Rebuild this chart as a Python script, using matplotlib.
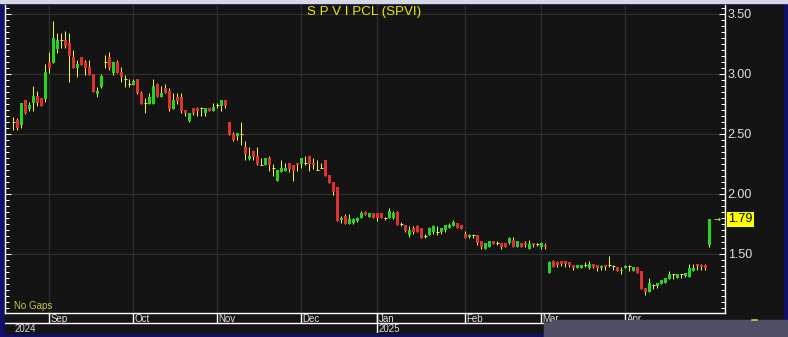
import numpy as np
import matplotlib
matplotlib.use('Agg')
import matplotlib.pyplot as plt
from matplotlib.patches import Rectangle
from matplotlib.lines import Line2D
from matplotlib.ticker import MultipleLocator, FormatStrFormatter
from matplotlib.transforms import blended_transform_factory

plt.rcParams['font.family'] = ['Liberation Sans', 'DejaVu Sans']

title = 'S P V I PCL (SPVI)'

# daily OHLC, one row per trading day (Aug 2024 .. Apr 2025)
opens = [2.60, 2.62, 2.575, 2.78, 2.71, 2.76, 2.82, 2.80, 2.79, 3.10,
         3.09, 3.21, 3.28, 3.28, 3.26, 3.14, 3.05, 3.14, 3.10, 3.06,
         3.00, 2.83, 2.89, 3.10, 3.14, 3.01, 3.10, 3.02, 2.96, 2.92,
         2.91, 2.96, 2.84, 2.76, 2.75, 2.75, 2.92, 2.81, 2.88, 2.86,
         2.71, 2.81, 2.81, 2.70, 2.61, 2.72, 2.72, 2.72, 2.675, 2.72,
         2.69, 2.74, 2.73, 2.78, 2.60, 2.50, 2.48, 2.50, 2.39, 2.29,
         2.36, 2.32, 2.24, 2.24, 2.30, 2.22, 2.11, 2.18, 2.19, 2.26,
         2.24, 2.26, 2.25, 2.26, 2.32, 2.26, 2.20, 2.22, 2.28, 2.16,
         2.10, 2.06, 1.78, 1.82, 1.75, 1.76, 1.775, 1.80, 1.85, 1.81,
         1.845, 1.845, 1.84, 1.80, 1.80, 1.80, 1.85, 1.75, 1.74, 1.655,
         1.715, 1.735, 1.72, 1.65, 1.655, 1.68, 1.685, 1.685, 1.70, 1.72,
         1.735, 1.76, 1.745, 1.67, 1.645, 1.655, 1.655, 1.61, 1.54, 1.56,
         1.605, 1.59, 1.595, 1.59, 1.59, 1.615, 1.555, 1.59, 1.595, 1.545,
         1.595, 1.58, 1.56, 1.575, 1.345, 1.445, 1.435, 1.44, 1.44, 1.435,
         1.41, 1.38, 1.38, 1.41, 1.38, 1.415, 1.41, 1.38, 1.41, 1.41,
         1.40, 1.395, 1.355, 1.385, 1.40, 1.36, 1.39, 1.355, 1.215, 1.185,
         1.24, 1.23, 1.25, 1.26, 1.29, 1.33, 1.30, 1.33, 1.32, 1.31,
         1.36, 1.415, 1.41, 1.405, 1.575]
highs = [2.64, 2.63, 2.76, 2.78, 2.77, 2.90, 2.86, 2.80, 3.08, 3.18,
         3.44, 3.34, 3.34, 3.36, 3.34, 3.20, 3.12, 3.14, 3.12, 3.12,
         3.00, 2.89, 3.00, 3.16, 3.18, 3.10, 3.12, 3.06, 2.99, 2.96,
         2.96, 2.96, 2.86, 2.80, 2.84, 2.96, 2.925, 2.90, 2.92, 2.88,
         2.84, 2.84, 2.84, 2.70, 2.675, 2.72, 2.725, 2.725, 2.72, 2.72,
         2.76, 2.76, 2.78, 2.78, 2.60, 2.52, 2.51, 2.60, 2.44, 2.39,
         2.36, 2.39, 2.30, 2.30, 2.32, 2.25, 2.20, 2.28, 2.26, 2.26,
         2.24, 2.26, 2.30, 2.32, 2.32, 2.30, 2.28, 2.26, 2.28, 2.16,
         2.10, 2.06, 1.82, 1.83, 1.83, 1.80, 1.81, 1.855, 1.86, 1.845,
         1.845, 1.845, 1.84, 1.81, 1.88, 1.86, 1.86, 1.765, 1.74, 1.73,
         1.735, 1.74, 1.72, 1.665, 1.725, 1.745, 1.735, 1.72, 1.745, 1.755,
         1.78, 1.76, 1.745, 1.69, 1.665, 1.67, 1.655, 1.61, 1.595, 1.61,
         1.61, 1.605, 1.595, 1.59, 1.645, 1.645, 1.605, 1.59, 1.605, 1.615,
         1.595, 1.595, 1.60, 1.59, 1.445, 1.45, 1.445, 1.44, 1.44, 1.435,
         1.41, 1.41, 1.41, 1.43, 1.445, 1.415, 1.41, 1.41, 1.41, 1.485,
         1.41, 1.395, 1.39, 1.41, 1.41, 1.39, 1.39, 1.355, 1.215, 1.30,
         1.25, 1.26, 1.285, 1.30, 1.355, 1.33, 1.33, 1.33, 1.345, 1.415,
         1.415, 1.415, 1.415, 1.415, 1.79]
lows = [2.53, 2.53, 2.55, 2.67, 2.69, 2.69, 2.73, 2.73, 2.77, 3.01,
        3.09, 3.175, 3.22, 3.22, 2.93, 3.05, 2.975, 3.075, 2.99, 2.99,
        2.85, 2.81, 2.88, 3.05, 3.03, 2.99, 3.01, 2.93, 2.89, 2.89,
        2.91, 2.83, 2.75, 2.675, 2.75, 2.75, 2.81, 2.81, 2.84, 2.69,
        2.71, 2.75, 2.675, 2.65, 2.60, 2.66, 2.65, 2.65, 2.65, 2.69,
        2.69, 2.72, 2.69, 2.72, 2.49, 2.44, 2.45, 2.41, 2.28, 2.28,
        2.28, 2.24, 2.24, 2.24, 2.19, 2.15, 2.11, 2.18, 2.19, 2.18,
        2.11, 2.19, 2.22, 2.24, 2.19, 2.21, 2.20, 2.22, 2.15, 2.09,
        1.99, 1.775, 1.76, 1.75, 1.75, 1.75, 1.765, 1.80, 1.825, 1.81,
        1.80, 1.775, 1.80, 1.785, 1.80, 1.79, 1.74, 1.73, 1.68, 1.645,
        1.67, 1.68, 1.63, 1.63, 1.655, 1.67, 1.66, 1.665, 1.685, 1.72,
        1.73, 1.715, 1.705, 1.63, 1.635, 1.635, 1.575, 1.545, 1.54, 1.56,
        1.58, 1.575, 1.54, 1.555, 1.58, 1.555, 1.555, 1.56, 1.56, 1.54,
        1.56, 1.565, 1.545, 1.545, 1.34, 1.39, 1.395, 1.40, 1.39, 1.39,
        1.37, 1.38, 1.38, 1.39, 1.375, 1.385, 1.355, 1.37, 1.37, 1.39,
        1.37, 1.355, 1.335, 1.385, 1.36, 1.36, 1.345, 1.205, 1.16, 1.185,
        1.205, 1.215, 1.25, 1.26, 1.29, 1.29, 1.30, 1.30, 1.31, 1.31,
        1.36, 1.37, 1.37, 1.37, 1.555]
closes = [2.60, 2.55, 2.76, 2.675, 2.74, 2.82, 2.76, 2.73, 3.02, 3.05,
          3.30, 3.28, 3.28, 3.23, 3.15, 3.05, 3.08, 3.075, 3.05, 2.99,
          2.85, 2.86, 2.98, 3.10, 3.05, 3.10, 3.01, 2.975, 2.96, 2.92,
          2.94, 2.84, 2.75, 2.76, 2.81, 2.90, 2.81, 2.84, 2.84, 2.71,
          2.78, 2.775, 2.69, 2.675, 2.675, 2.675, 2.69, 2.72, 2.72, 2.69,
          2.725, 2.74, 2.78, 2.73, 2.49, 2.45, 2.51, 2.50, 2.33, 2.32,
          2.31, 2.25, 2.24, 2.30, 2.24, 2.22, 2.20, 2.22, 2.22, 2.21,
          2.19, 2.24, 2.30, 2.26, 2.25, 2.24, 2.20, 2.22, 2.15, 2.09,
          2.02, 1.775, 1.80, 1.75, 1.79, 1.79, 1.80, 1.845, 1.825, 1.84,
          1.80, 1.80, 1.80, 1.80, 1.86, 1.845, 1.74, 1.75, 1.69, 1.70,
          1.68, 1.68, 1.635, 1.65, 1.72, 1.735, 1.685, 1.715, 1.74, 1.745,
          1.765, 1.715, 1.705, 1.635, 1.655, 1.655, 1.59, 1.56, 1.59, 1.61,
          1.58, 1.59, 1.555, 1.555, 1.635, 1.555, 1.605, 1.56, 1.575, 1.58,
          1.575, 1.58, 1.59, 1.555, 1.435, 1.395, 1.41, 1.42, 1.42, 1.41,
          1.38, 1.41, 1.41, 1.41, 1.42, 1.39, 1.38, 1.40, 1.39, 1.41,
          1.40, 1.36, 1.37, 1.40, 1.40, 1.39, 1.345, 1.205, 1.185, 1.26,
          1.24, 1.26, 1.285, 1.30, 1.335, 1.33, 1.33, 1.33, 1.345, 1.38,
          1.38, 1.40, 1.39, 1.38, 1.79]

# bar index of the first trading day of each month / year
month_names = ['Sep', 'Oct', 'Nov', 'Dec', 'Jan', 'Feb', 'Mar', 'Apr']
month_start = [9, 30, 51, 72, 91, 113, 132, 153]
year_names = ['2024', '2025']
year_start = [0, 91]

W, H = 788, 337
navy = '#10106c'
panel = '#141414'
gridc = '#2e2e2e'
up_c = '#22d622'
down_c = '#e03030'
wick_c = '#f0f040'
txt_c = '#e0e0e0'
px = 0.72  # one pixel in points


def box(x0, y0, x1, y1):
    return [x0 / W, 1 - y1 / H, (x1 - x0) / W, (y1 - y0) / H]


fig = plt.figure(figsize=(W / 100, H / 100), dpi=100, facecolor=navy)
fig.patches.append(Rectangle((0, 1 - 2.5 / H), 1, 2.5 / H, transform=fig.transFigure,
                             color='#d8d8e4', zorder=-2))
fig.patches.append(Rectangle((5 / W, 1 - 333 / H), 778 / W, 328 / H, transform=fig.transFigure,
                             color=panel, zorder=-2))

ax = fig.add_axes(box(5, 5, 725, 313), facecolor=panel)
o = np.array(opens)
h = np.array(highs)
l = np.array(lows)
c = np.array(closes)
idx = np.arange(len(o))

x_left = (5 - 13.3) / 4
x_right = (725 - 13.3) / 4
ax.set_xlim(x_left, x_right)
ax.set_ylim(1.008, 3.575)

ax.vlines(idx, l, h, color=wick_c, lw=px, zorder=3)
doji = np.abs(c - o) < 0.004
body_lo = np.minimum(o, c)
body_h = np.maximum(np.abs(c - o), 0.012)
cols = np.where(c > o, up_c, down_c)
ax.bar(idx[~doji], body_h[~doji], bottom=body_lo[~doji], width=0.75,
       color=cols[~doji], linewidth=0, zorder=4)
ax.hlines(c[doji], idx[doji] - 0.45, idx[doji] + 0.45, color=wick_c, lw=px, zorder=4)

for m in month_start:
    ax.axvline(m, color=gridc, lw=1.3 * px, zorder=1)
ax.yaxis.set_major_locator(MultipleLocator(0.5))
ax.yaxis.set_minor_locator(MultipleLocator(0.05))
ax.yaxis.set_major_formatter(FormatStrFormatter('%.2f'))
ax.grid(axis='y', which='major', color=gridc, lw=1.3 * px, zorder=1)
ax.set_axisbelow(True)
ax.set_xticks([])
ax.tick_params(axis='y', which='both', direction='in', left=True, right=True,
               labelleft=False, labelright=True, color='white', width=px)
ax.tick_params(axis='y', which='major', length=4.5, labelsize=9, labelcolor=txt_c, pad=2)
ax.tick_params(axis='y', which='minor', length=2.6)
for s in ['left', 'right', 'bottom']:
    ax.spines[s].set_color('white')
    ax.spines[s].set_linewidth(1.4 * px)
ax.spines['top'].set_visible(False)

ax.text(9 / 720, 7 / 308, 'No Gaps', transform=ax.transAxes, color='#c8c83c',
        fontsize=7, ha='left', va='center')

mix = blended_transform_factory(ax.transAxes, ax.transData)
ax.text(1.0045, c[-1], '%.2f' % c[-1], transform=mix, ha='left', va='center',
        fontsize=9, color='black', clip_on=False,
        bbox=dict(boxstyle='square,pad=0.12', fc='#ffff00', ec='none'))
ax.text(0.9885, c[-1], '\u2192', transform=mix, ha='center', va='center',
        fontsize=6, color=wick_c, family=['DejaVu Sans'])

fig.text(364.5 / W, 1 - 12 / H, title, ha='center', va='center', color='#e8e800',
         fontsize=9.6)

# date strip under the chart
st = fig.add_axes(box(5, 313, 725, 333), facecolor=panel)
st.set_xlim(x_left, x_right)
st.set_ylim(0, 2)
st.axis('off')
st.axhline(1, color='white', lw=1.4 * px)
for m, name in zip(month_start, month_names):
    st.vlines(m - 0.1, 1, 2, color='white', lw=1.4 * px)
    st.text(m + 0.35, 1.45, name, color=txt_c, fontsize=7, ha='left', va='center')
for ys, name in zip(year_start, year_names):
    if ys > 0:
        st.vlines(ys - 0.1, 0, 2, color='white', lw=1.4 * px)
    st.text(ys + 0.35, 0.45, name, color=txt_c, fontsize=7, ha='left', va='center')

# window overlay at the bottom right
fig.patches.append(Rectangle((552 / W, 0), 236 / W, 17 / H, transform=fig.transFigure,
                             color='#4e4e66', zorder=10))
fig.patches.append(Rectangle((544 / W, 0), 8 / W, 14 / H, transform=fig.transFigure,
                             color='#4e4e66', zorder=10))
fig.lines.append(Line2D([752 / W, 757 / W], [1 - 319.8 / H, 1 - 319.8 / H],
                        transform=fig.transFigure, color='#e8e800', lw=1.5 * px, zorder=11))

fig.savefig('out.png', dpi=100, facecolor=navy)
